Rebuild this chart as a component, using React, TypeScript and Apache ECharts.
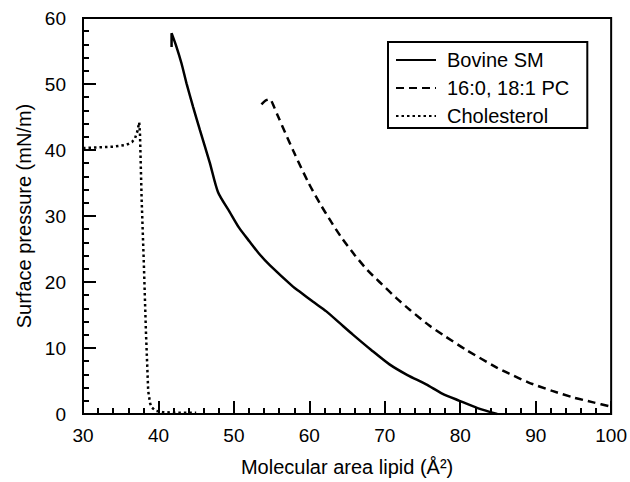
import React, { useEffect, useRef } from "react";
import * as echarts from "echarts";

const seriesNames = ["Bovine SM", "16:0, 18:1 PC", "Cholesterol"];

const bovineSM: [number, number][] = [
  [41.74, 55.6], [41.74, 57.7], [42.4, 55.6], [43.06, 53.1], [43.72, 50.1],
  [44.6, 46.5], [45.5, 43.0], [46.8, 38.1], [47.9, 33.6], [49.45, 30.6],
  [50.7, 28.2], [52.1, 26.1], [53.4, 24.2], [54.75, 22.55], [57.83, 19.3],
  [58.7, 18.55], [60.5, 17.0], [62.25, 15.55], [64.0, 13.8], [65.77, 12.03],
  [68.2, 9.7], [70.62, 7.52], [73.0, 5.9], [75.48, 4.5], [77.6, 3.1],
  [79.9, 2.0], [82.3, 0.9], [84.9, 0.0],
];

const pc: [number, number][] = [
  [53.65, 46.9], [54.2, 47.5], [54.75, 47.7], [55.3, 46.6], [55.85, 45.1],
  [57.9, 39.8], [59.9, 35.0], [61.4, 31.9], [62.9, 29.1], [64.4, 26.5],
  [66.0, 24.1], [67.7, 21.8], [69.3, 20.0], [71.5, 17.6], [73.3, 15.8],
  [75.9, 13.4], [77.7, 12.0], [80.8, 9.7], [84.9, 7.0], [86.5, 6.1],
  [89.0, 4.8], [92.2, 3.5], [95.0, 2.5], [97.5, 1.8], [100.0, 1.1],
];

const cholesterol: [number, number][] = [
  [30, 40.3], [32, 40.4], [34, 40.5], [35.8, 40.8], [36.5, 41.2],
  [36.9, 41.8], [37.2, 42.8], [37.45, 44.2], [37.55, 42.5], [37.77, 32.6],
  [38.07, 22.6], [38.34, 12.5], [38.64, 3.5], [38.9, 1.6], [39.1, 1.0],
  [39.6, 0.5], [40.5, 0.3], [42, 0.2], [45, 0.2],
];

const xRange = { min: 30, max: 100, interval: 10 };
const yRange = { min: 0, max: 60, interval: 10 };
const xTitle = "Molecular area lipid (Å²)";
const yTitle = "Surface pressure (mN/m)";

const FONT = "Liberation Sans, Arial, Helvetica, sans-serif";

export default function App() {
  const ref = useRef<HTMLDivElement>(null);
  useEffect(() => {
    if (!ref.current) return;
    const chart = echarts.init(ref.current, undefined, { renderer: "svg" });
    const axisCommon = {
      axisLine: { show: true, lineStyle: { color: "#000", width: 2 } },
      axisTick: { show: true, inside: true, length: 13, lineStyle: { color: "#000", width: 2 } },
      minorTick: { show: true, splitNumber: 5, length: 6, lineStyle: { color: "#000", width: 2 } },
      splitLine: { show: false },
      minorSplitLine: { show: false },
      nameLocation: "middle" as const,
      nameTextStyle: { color: "#000", fontSize: 20, fontFamily: FONT },
    };
    chart.setOption({
      animation: false,
      backgroundColor: "#fff",
      textStyle: { fontFamily: FONT },
      grid: {
        left: 83,
        right: 18,
        top: 18,
        bottom: 65,
        show: true,
        borderColor: "#000",
        borderWidth: 2,
        backgroundColor: "transparent",
      },
      legend: {
        orient: "vertical",
        left: 388,
        top: 42,
        data: seriesNames,
        itemWidth: 40,
        itemHeight: 14,
        itemGap: 8,
        padding: [8, 18, 2, 7],
        borderColor: "#000",
        borderWidth: 2,
        backgroundColor: "#fff",
        itemStyle: { color: "rgba(0,0,0,0)", borderWidth: 0, opacity: 0 },
        textStyle: { color: "#000", fontSize: 20, fontFamily: FONT, lineHeight: 20, padding: [0, 0, 0, 6] },
      },
      xAxis: {
        type: "value",
        min: xRange.min,
        max: xRange.max,
        interval: xRange.interval,
        name: xTitle,
        nameGap: 43,
        axisLabel: { color: "#000", fontSize: 19, fontFamily: FONT, margin: 12 },
        ...axisCommon,
      },
      yAxis: {
        type: "value",
        min: yRange.min,
        max: yRange.max,
        interval: yRange.interval,
        name: yTitle,
        nameGap: 45,
        axisLabel: { color: "#000", fontSize: 19, fontFamily: FONT, margin: 17 },
        ...axisCommon,
      },
      series: [
        {
          name: seriesNames[0],
          type: "line",
          data: bovineSM,
          showSymbol: false,
          symbol: "none",
          smooth: 0.25,
          lineStyle: { color: "#000", width: 2.5, type: "solid" },
          itemStyle: { color: "#000" },
        },
        {
          name: seriesNames[1],
          type: "line",
          data: pc,
          showSymbol: false,
          symbol: "none",
          smooth: 0.25,
          lineStyle: { color: "#000", width: 2.5, type: [8, 5] },
          itemStyle: { color: "#000" },
        },
        {
          name: seriesNames[2],
          type: "line",
          data: cholesterol,
          showSymbol: false,
          symbol: "none",
          lineStyle: { color: "#000", width: 2.5, type: [2.5, 3] },
          itemStyle: { color: "#000" },
        },
      ],
    });
    return () => chart.dispose();
  }, []);
  return <div ref={ref} style={{ width: 630, height: 482, position: "absolute", left: 0, top: 0 }} />;
}
